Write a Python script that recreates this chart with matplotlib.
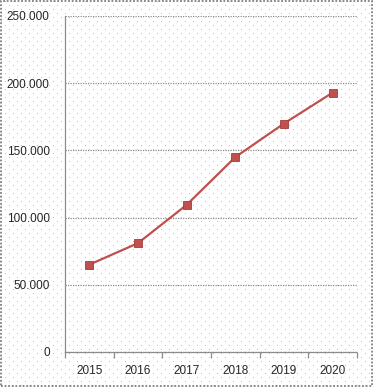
import numpy as np
import matplotlib.pyplot as plt
from matplotlib.patches import Rectangle
from matplotlib.ticker import FuncFormatter

plt.rcParams['font.family'] = ['Liberation Sans', 'DejaVu Sans']

years = ['2015', '2016', '2017', '2018', '2019', '2020']
values = [65000, 81000, 109500, 145000, 170000, 193000]

W, H = 373, 387
fig = plt.figure(figsize=(W / 100, H / 100), dpi=100)

# dotted paper background (one-pixel grey dots, staggered rows)
bg = np.ones((H, W, 3))
bg[1::8, 5::8] = 0.75
bg[5::8, 1::8] = 0.75
fig.figimage(bg, xo=0, yo=0, zorder=-5)

frame = Rectangle((0.002, 0.002), 0.996, 0.996, transform=fig.transFigure,
                  facecolor='none', edgecolor='#7f7f7f', linewidth=1.3,
                  linestyle=(0, (1, 1)), zorder=5)
fig.patches.append(frame)

ax = fig.add_axes([65 / W, 1 - 352 / H, 292 / W, 336 / H])
ax.patch.set_alpha(0)

x = list(range(len(years)))
ax.plot(x, values, color='#c0504d', linewidth=1.6, marker='s', markersize=5.5,
        markerfacecolor='#c0504d', markeredgecolor='#a23c39', markeredgewidth=0.6,
        zorder=3)

ax.set_xlim(-0.5, len(years) - 0.5)
ax.set_ylim(0, 250000)
ax.set_yticks([0, 50000, 100000, 150000, 200000, 250000])
ax.yaxis.set_major_formatter(FuncFormatter(
    lambda v, p: '0' if v == 0 else f'{int(v):,}'.replace(',', '.')))
ax.set_xticks(x)
ax.set_xticklabels(years)
ax.set_xticks([i - 0.5 for i in range(len(years) + 1)], minor=True)

ax.grid(axis='y', color='#8c8c8c', linewidth=0.9, linestyle=(0, (1, 1)))
ax.set_axisbelow(True)

for side in ['top', 'right']:
    ax.spines[side].set_visible(False)
for side in ['left', 'bottom']:
    ax.spines[side].set_color('#8c8c8c')
    ax.spines[side].set_linestyle((0, (1, 1)))
    ax.spines[side].set_linewidth(0.9)

ax.tick_params(axis='y', length=0, pad=11, labelsize=8.5, labelcolor='#262626')
ax.tick_params(axis='x', which='major', length=0, pad=9, labelsize=8.5, labelcolor='#262626')
ax.tick_params(axis='x', which='minor', length=4, color='#8c8c8c', width=0.9)

plt.savefig('out.png', dpi=100)
